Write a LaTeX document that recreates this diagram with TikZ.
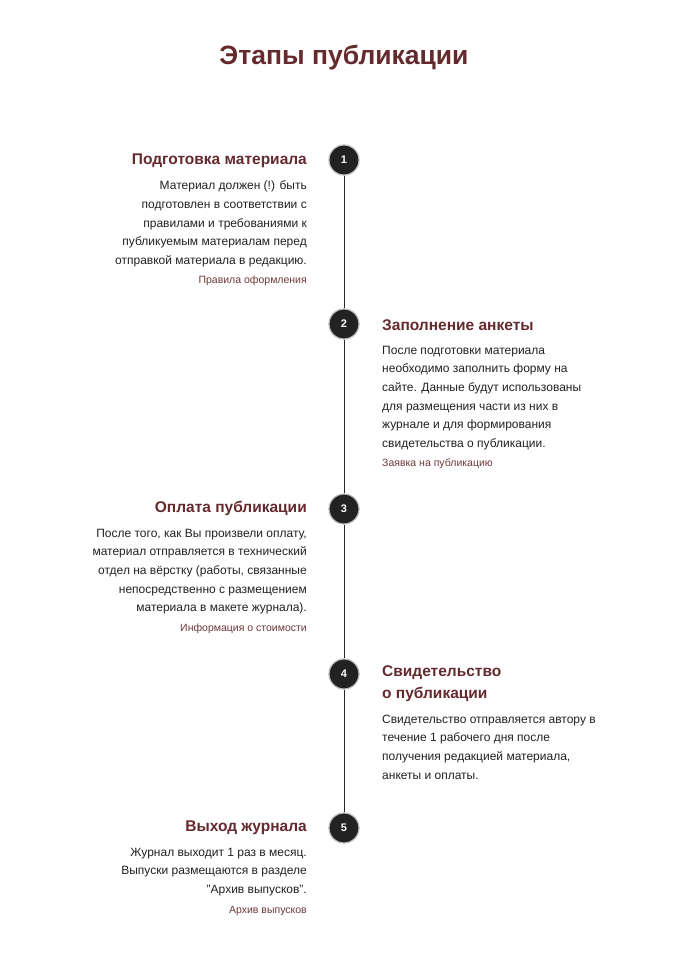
\documentclass[tikz,border=0pt]{standalone}
\usepackage{fontspec}
\setmainfont{Liberation Sans}
\definecolor{wine}{HTML}{652A2E}
\definecolor{linkc}{HTML}{6E3A3C}
\definecolor{bodyc}{HTML}{222222}
\definecolor{dot}{HTML}{222222}
\definecolor{ring}{HTML}{BBBBBB}
\begin{document}
\begin{tikzpicture}[x=1pt,y=1pt,
  stepdot/.style={circle,fill=dot,draw=ring,line width=1.2pt,minimum size=30pt,inner sep=0pt,text=white,font=\fontsize{11}{13}\selectfont\bfseries},
  headL/.style={anchor=base east,inner sep=0pt,text=wine,align=right,font=\fontsize{15.5}{22}\selectfont\bfseries},
  headR/.style={anchor=north west,inner sep=0pt,text=wine,align=left,font=\fontsize{15.5}{22}\selectfont\bfseries},
  bodyL/.style={anchor=north east,inner sep=0pt,text=bodyc,align=right,font=\fontsize{12}{18.7}\selectfont},
  bodyR/.style={anchor=north west,inner sep=0pt,text=bodyc,align=left,font=\fontsize{12}{18.7}\selectfont},
  linkL/.style={anchor=base east,inner sep=0pt,text=linkc,font=\fontsize{10.5}{12}\selectfont},
  linkR/.style={anchor=base west,inner sep=0pt,text=linkc,font=\fontsize{10.5}{12}\selectfont},
  tl/.style={line width=0.9pt,draw=black!85}
]
\useasboundingbox[fill=white] (0,0) rectangle (681,-964);
\node[anchor=base,inner sep=0pt,text=wine,font=\fontsize{26.5}{30}\selectfont\bfseries] (title) at (344,-64) {Этапы публикации};

\node[stepdot] (c1) at (344,-160) {1};
\node[stepdot] (c2) at (344,-324) {2};
\node[stepdot] (c3) at (344,-509) {3};
\node[stepdot] (c4) at (344,-674) {4};
\node[stepdot] (c5) at (344,-828) {5};
\draw[tl] (c1) -- (c2);
\draw[tl] (c2) -- (c3);
\draw[tl] (c3) -- (c4);
\draw[tl] (c4) -- (c5);

% 1
\node[headL] (h1) at (307,-164) {Подготовка материала};
\node[bodyL] (b1) at (307,-176.4) {\strut Материал должен (!) быть\\подготовлен в соответствии с\\правилами и требованиями к\\публикуемым материалам перед\\отправкой материала в редакцию.};
\node[linkL] (l1) at (307,-283) {Правила оформления};

% 2
\node[anchor=base west,inner sep=0pt,text=wine,font=\fontsize{15.5}{22}\selectfont\bfseries] (h2) at (382,-330) {Заполнение анкеты};
\node[bodyR] (b2) at (382,-340.9) {\strut После подготовки материала\\необходимо заполнить форму на\\сайте. Данные будут использованы\\для размещения части из них в\\журнале и для формирования\\свидетельства о публикации.};
\node[linkR] (l2) at (382,-466) {Заявка на публикацию};

% 3
\node[headL] (h3) at (307,-512) {Оплата публикации};
\node[bodyL] (b3) at (307,-523.9) {\strut После того, как Вы произвели оплату,\\материал отправляется в технический\\отдел на вёрстку (работы, связанные\\непосредственно с размещением\\материала в макете журнала).};
\node[linkL] (l3) at (307,-631) {Информация о стоимости};

% 4
\node[headR] (h4) at (382,-660.6) {\strut Свидетельство\\о публикации};
\node[bodyR] (b4) at (382,-709.9) {\strut Свидетельство отправляется автору в\\течение 1 рабочего дня после\\получения редакцией материала,\\анкеты и оплаты.};

% 5
\node[headL] (h5) at (307,-831) {Выход журнала};
\node[bodyL] (b5) at (307,-842.9) {\strut Журнал выходит 1 раз в месяц.\\Выпуски размещаются в разделе\\"Архив выпусков".};
\node[linkL] (l5) at (307,-913) {Архив выпусков};
\end{tikzpicture}
\end{document}
